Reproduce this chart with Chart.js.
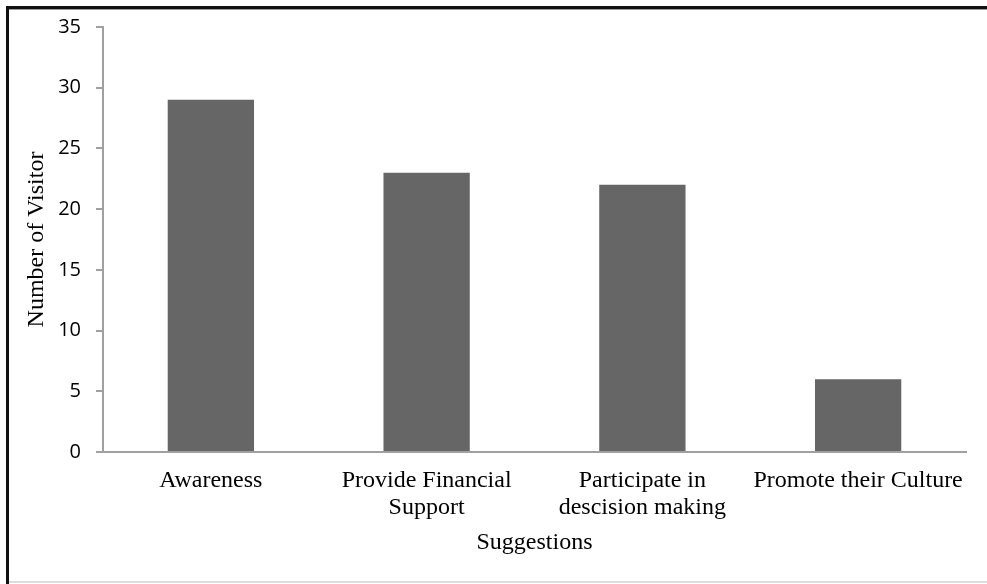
<!DOCTYPE html>
<html>
<head>
<meta charset="utf-8">
<script src="https://cdn.jsdelivr.net/npm/chart.js@4"></script>
<style>
    html, body { margin: 0; padding: 0; background: #fff; }
    #wrap { position: relative; width: 987px; height: 584px; }
</style>
</head>
<body>
<div id="wrap"><canvas id="chart" width="987" height="584"></canvas></div>
<script>
const categories = ['Awareness', ['Provide Financial', 'Support'], ['Participate in', 'descision making'], 'Promote their Culture'];
const visitors = [29, 23, 22, 6];
const yTicks = [0, 5, 10, 15, 20, 25, 30, 35];

const axisGray = '#a0a0a0';
const serif = '"Liberation Serif", "Times New Roman", serif';

// frame around the figure: heavy black top/left, faint bottom
const framePlugin = {
    id: 'frame',
    afterDraw(chart) {
        const ctx = chart.ctx;
        ctx.save();
        ctx.fillStyle = '#111';
        ctx.fillRect(6, 6, 981, 3);
        ctx.fillRect(6, 6, 3, 578);
        ctx.fillStyle = '#999';
        ctx.fillRect(9, 9, 978, 1);
        ctx.fillStyle = '#ddd';
        ctx.fillRect(9, 581, 978, 2);
        ctx.restore();
    }
};

new Chart(document.getElementById('chart'), {
    type: 'bar',
    data: {
        labels: categories,
        datasets: [{
            data: visitors,
            backgroundColor: '#666666',
            barPercentage: 0.4,
            categoryPercentage: 1
        }]
    },
    options: {
        responsive: false,
        animation: false,
        layout: { padding: { top: 26, right: 21, left: 0, bottom: 0 } },
        plugins: {
            legend: { display: false },
            tooltip: { enabled: false }
        },
        scales: {
            x: {
                grid: { display: false },
                border: { display: true, color: axisGray, width: 2 },
                ticks: {
                    color: '#000',
                    maxRotation: 0,
                    autoSkip: false,
                    padding: 7,
                    font: { family: serif, size: 24, lineHeight: 1.13 }
                },
                title: {
                    display: true,
                    text: 'Suggestions',
                    color: '#000',
                    padding: { top: 0, bottom: 27 },
                    font: { family: serif, size: 24, lineHeight: 1.2 }
                },
                afterFit(scale) { scale.height = 132; }
            },
            y: {
                min: 0,
                max: 35,
                afterBuildTicks(scale) { scale.ticks = yTicks.map(v => ({ value: v })); },
                grid: { drawOnChartArea: false, drawTicks: true, tickLength: 7, color: axisGray, lineWidth: 2 },
                border: { display: true, color: axisGray, width: 2 },
                ticks: {
                    color: '#000',
                    padding: 15,
                    font: { family: '"Open Sans", "Noto Sans", sans-serif', size: 20 }
                },
                title: {
                    display: true,
                    text: 'Number of Visitor',
                    color: '#000',
                    padding: { top: 22, bottom: 0 },
                    font: { family: serif, size: 24, lineHeight: 1.2 }
                },
                afterFit(scale) { scale.width = 103; }
            }
        }
    },
    plugins: [framePlugin]
});
</script>
</body>
</html>
